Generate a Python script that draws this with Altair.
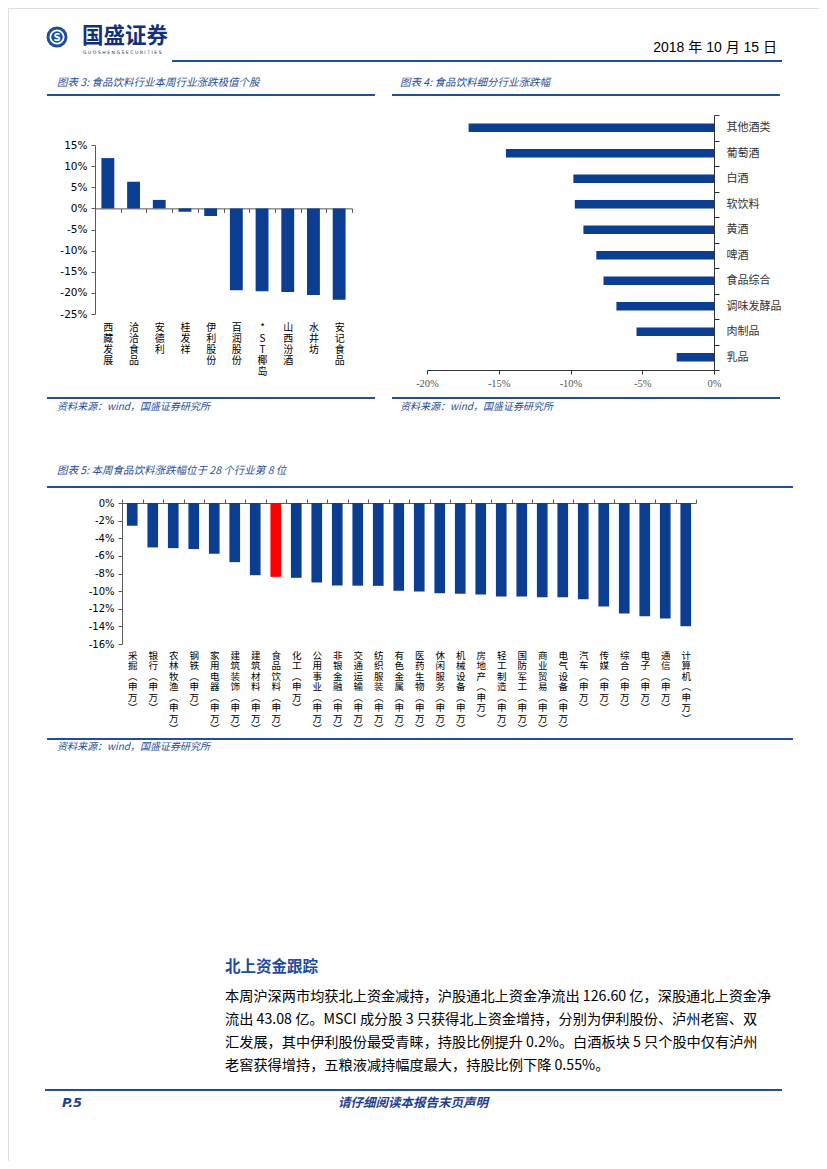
import altair as alt
import pandas as pd

# ---------------- data ----------------
stocks3 = ['西藏发展', '洽洽食品', '安德利', '桂发祥', '伊利股份', '百润股份', '*ST椰岛', '山西汾酒', '水井坊', '安记食品']
chg3 = [11.9, 6.3, 2.0, -0.8, -1.8, -19.4, -19.6, -19.8, -20.5, -21.6]

segs4 = ['其他酒类', '葡萄酒', '白酒', '软饮料', '黄酒', '啤酒', '食品综合', '调味发酵品', '肉制品', '乳品']
chg4 = [-17.1, -14.5, -9.8, -9.7, -9.1, -8.2, -7.7, -6.8, -5.4, -2.6]

inds5 = ['采掘', '银行', '农林牧渔', '钢铁', '家用电器', '建筑装饰', '建筑材料', '食品饮料', '化工', '公用事业',
         '非银金融', '交通运输', '纺织服装', '有色金属', '医药生物', '休闲服务', '机械设备', '房地产', '轻工制造', '国防军工',
         '商业贸易', '电气设备', '汽车', '传媒', '综合', '电子', '通信', '计算机']
suffix5 = '(申万)'
chg5 = [-2.58, -5.04, -5.12, -5.23, -5.76, -6.71, -8.19, -8.38, -8.49, -9.02,
        -9.36, -9.38, -9.40, -9.97, -10.05, -10.24, -10.31, -10.39, -10.62, -10.62,
        -10.69, -10.70, -10.92, -11.75, -12.55, -12.85, -13.12, -13.99]
highlight5 = '食品饮料(申万)'

ticks3 = [-25, -20, -15, -10, -5, 0, 5, 10, 15]
ticks4 = [-20, -15, -10, -5, 0]
ticks5 = [-16, -14, -12, -10, -8, -6, -4, -2, 0]

company = '国盛证券'
company_en = 'G U O S H E N G   S E C U R I T I E S'
date_txt = '2018 年 10 月 15 日'
title3 = '图表 3:  食品饮料行业本周行业涨跌极值个股'
title4 = '图表 4:  食品饮料细分行业涨跌幅'
title5 = '图表 5:  本周食品饮料涨跌幅位于 28 个行业第 8 位'
source_txt = '资料来源：wind，国盛证券研究所'
section_title = '北上资金跟踪'
para_lines = [
    '本周沪深两市均获北上资金减持，沪股通北上资金净流出 126.60 亿，深股通北上资金净',
    '流出 43.08 亿。MSCI 成分股 3 只获得北上资金增持，分别为伊利股份、泸州老窖、双',
    '汇发展，其中伊利股份最受青睐，持股比例提升 0.2%。白酒板块 5 只个股中仅有泸州',
    '老窖获得增持，五粮液减持幅度最大，持股比例下降 0.55%。',
]
page_no = 'P.5'
footer_txt = '请仔细阅读本报告末页声明'

# ---------------- style ----------------
W, H = 811, 1153
BLUE = '#0b3d91'
RED = '#ff0000'
LINE = '#1f4f9c'
TBLUE = '#1f4e9a'
CJK = 'Noto Sans CJK SC'
SANS = 'DejaVu Sans'
AXC = '#595959'

df3 = pd.DataFrame({'stock': stocks3, 'chg': chg3})
df4 = pd.DataFrame({'seg': segs4, 'chg': chg4})
df5 = pd.DataFrame({'ind': [s + suffix5 for s in inds5], 'chg': chg5})

layers = []

# ---------------- chart 3 ----------------
X3 = [87, 344]
Y3 = [306, 137]
zero3 = Y3[0] + (0 - ticks3[0]) / (ticks3[-1] - ticks3[0]) * (Y3[1] - Y3[0])

def xscale3():
    return alt.Scale(range=X3, paddingInner=0, paddingOuter=0)

bars3 = alt.Chart(df3).mark_bar(color=BLUE, width=alt.RelativeBandSize(0.5)).encode(
    x=alt.X('stock:N', sort=None, scale=xscale3(),
            axis=alt.Axis(orient='bottom', offset=zero3 - H, labels=False, tickBand='extent',
                          tickSize=4, domainColor=AXC, tickColor=AXC, title=None, grid=False)),
    y=alt.Y('chg:Q', scale=alt.Scale(domain=[ticks3[0], ticks3[-1]], range=Y3, nice=False),
            axis=alt.Axis(orient='left', offset=-X3[0], values=ticks3, labelExpr="datum.value + '%'",
                          tickSize=4, labelPadding=4, labelFont=SANS, labelFontSize=10.5, labelColor='#000',
                          domainColor=AXC, tickColor=AXC, labelFlush=False, labelOverlap=False,
                          title=None, grid=False)),
)
lab3 = alt.Chart(df3).mark_point(opacity=0).encode(
    x=alt.X('stock:N', sort=None, scale=xscale3(),
            axis=alt.Axis(orient='bottom', offset=310 - H, domain=False, ticks=False, tickSize=0,
                          labelAngle=0, labelAlign='center', labelBaseline='top', labelPadding=4,
                          labelExpr="split(datum.label, '')", labelFont=CJK, labelFontSize=10,
                          labelLineHeight=11, labelColor='#000', labelOverlap=False, labelLimit=400,
                          title=None, grid=False)),
)
layers += [bars3, lab3]

# ---------------- chart 4 ----------------
X4 = [419, 706]
Y4 = [107, 362]
bars4 = alt.Chart(df4).mark_bar(color=BLUE, height=alt.RelativeBandSize(0.34)).encode(
    y=alt.Y('seg:N', sort=None, scale=alt.Scale(range=Y4, paddingInner=0, paddingOuter=0),
            axis=alt.Axis(orient='right', offset=X4[1] - W, tickBand='extent', tickSize=5,
                          labelPadding=7, labelAlign='left', labelBaseline='middle', labelFont=CJK,
                          labelFontSize=11, labelColor='#333', domainColor='#333', tickColor='#333',
                          labelOverlap=False, labelLimit=300, title=None, grid=False)),
    x=alt.X('chg:Q', scale=alt.Scale(domain=[ticks4[0], ticks4[-1]], range=X4, nice=False),
            axis=alt.Axis(orient='bottom', offset=Y4[1] - H, values=ticks4, labelExpr="datum.value + '%'",
                          tickSize=4, labelPadding=4, labelFont='Liberation Serif', labelFontSize=10.5,
                          labelColor='#555', domainColor='#333', tickColor='#333', labelFlush=False,
                          labelOverlap=False, title=None, grid=False)),
)
layers += [bars4]

# ---------------- chart 5 ----------------
X5 = [114, 688]
Y5 = [636, 495]

def xscale5():
    return alt.Scale(range=X5, paddingInner=0, paddingOuter=0)

bars5 = alt.Chart(df5).mark_bar(width=alt.RelativeBandSize(0.52)).encode(
    x=alt.X('ind:N', sort=None, scale=xscale5(),
            axis=alt.Axis(orient='top', offset=-Y5[1], labels=False, tickBand='extent', tickSize=4,
                          domainColor=AXC, tickColor=AXC, title=None, grid=False)),
    y=alt.Y('chg:Q', scale=alt.Scale(domain=[ticks5[0], ticks5[-1]], range=Y5, nice=False),
            axis=alt.Axis(orient='left', offset=-X5[0], values=ticks5, labelExpr="datum.value + '%'",
                          tickSize=4, labelPadding=4, labelFont=SANS, labelFontSize=10, labelColor='#000',
                          domainColor=AXC, tickColor=AXC, labelFlush=False, labelOverlap=False,
                          title=None, grid=False)),
    color=alt.condition(alt.datum.ind == highlight5, alt.value(RED), alt.value(BLUE)),
)
lab5 = alt.Chart(df5).mark_point(opacity=0).encode(
    x=alt.X('ind:N', sort=None, scale=xscale5(),
            axis=alt.Axis(orient='bottom', offset=638 - H, domain=False, ticks=False, tickSize=0,
                          labelAngle=0, labelAlign='center', labelBaseline='top', labelPadding=4,
                          labelExpr="split(replace(replace(datum.label, '(', '︵'), ')', '︶'), '')",
                          labelFont=CJK, labelFontSize=9.5, labelLineHeight=10.5, labelColor='#000',
                          labelOverlap=False, labelLimit=400, title=None, grid=False)),
)
layers += [bars5, lab5]

# ---------------- decorations ----------------
def hline(x1, x2, y, w=2.2, color=LINE):
    return alt.Chart(pd.DataFrame({'a': [0]})).mark_rule(color=color, strokeWidth=w).encode(
        x=alt.value(x1), x2=alt.value(x2), y=alt.value(y))

def txt(s, x, y, size, color='#000', weight='normal', style='normal', align='left', font=CJK,
        baseline='middle'):
    return alt.Chart(pd.DataFrame({'t': [s]})).mark_text(
        align=align, baseline=baseline, fontSize=size, font=font, fontWeight=weight,
        fontStyle=style, color=color).encode(x=alt.value(x), y=alt.value(y), text='t:N')

def dot(x, y, size, color):
    return alt.Chart(pd.DataFrame({'a': [0]})).mark_point(
        shape='circle', filled=True, size=size, color=color, opacity=1).encode(
        x=alt.value(x), y=alt.value(y))

# header
layers += [
    dot(49, 29, 440, '#1b4ea0'),
    dot(49, 29, 230, '#ffffff'),
    dot(49, 29, 135, '#1b4ea0'),
    txt('S', 49, 29.5, 10, color='#ffffff', weight='bold', align='center', font=SANS),
    txt(company, 74, 29, 21.5, color='#14307a', weight='bold'),
    txt(company_en, 75, 45, 4.6, color='#14307a', font=SANS),
    hline(164, 774, 53),
    txt(date_txt, 769, 40, 14, color='#000', align='right',
        font='Liberation Sans Narrow, Liberation Sans, Noto Sans CJK SC'),
]
# chart 3 / 4 frames
layers += [
    txt(title3, 49, 75, 10.5, color=TBLUE, style='italic'),
    hline(39, 367, 87),
    txt(title4, 392, 75, 10.5, color=TBLUE, style='italic'),
    hline(384, 772, 87),
    hline(39, 367, 390),
    hline(384, 772, 390),
    txt(source_txt, 49, 399, 10, color=TBLUE, style='italic'),
    txt(source_txt, 392, 399, 10, color=TBLUE, style='italic'),
]
# chart 5 frame
layers += [
    txt(title5, 49, 463, 10.5, color=TBLUE, style='italic'),
    hline(39, 785, 479),
    hline(39, 785, 731),
    txt(source_txt, 49, 739, 10, color=TBLUE, style='italic'),
]
# text block
layers += [txt(section_title, 217, 959, 15.5, color='#1f4aa0', weight='bold')]
for i, line in enumerate(para_lines):
    layers.append(txt(line, 217, 989 + i * 23, 14.2, color='#000'))
# footer
layers += [
    hline(37, 774, 1082),
    txt(page_no, 54, 1095, 13, color='#1f3f8f', weight='bold', style='italic', font=SANS),
    txt(footer_txt, 405, 1095, 12.5, color='#1f3f8f', weight='bold', style='italic', align='center'),
]

chart = alt.layer(*layers).resolve_scale(
    x='independent', y='independent'
).properties(
    width=W, height=H, autosize=alt.AutoSizeParams(type='none'), padding=0
).configure_view(strokeWidth=0).configure(background='white')

chart.save('out.html', embed_options={'renderer': 'svg', 'actions': False})
